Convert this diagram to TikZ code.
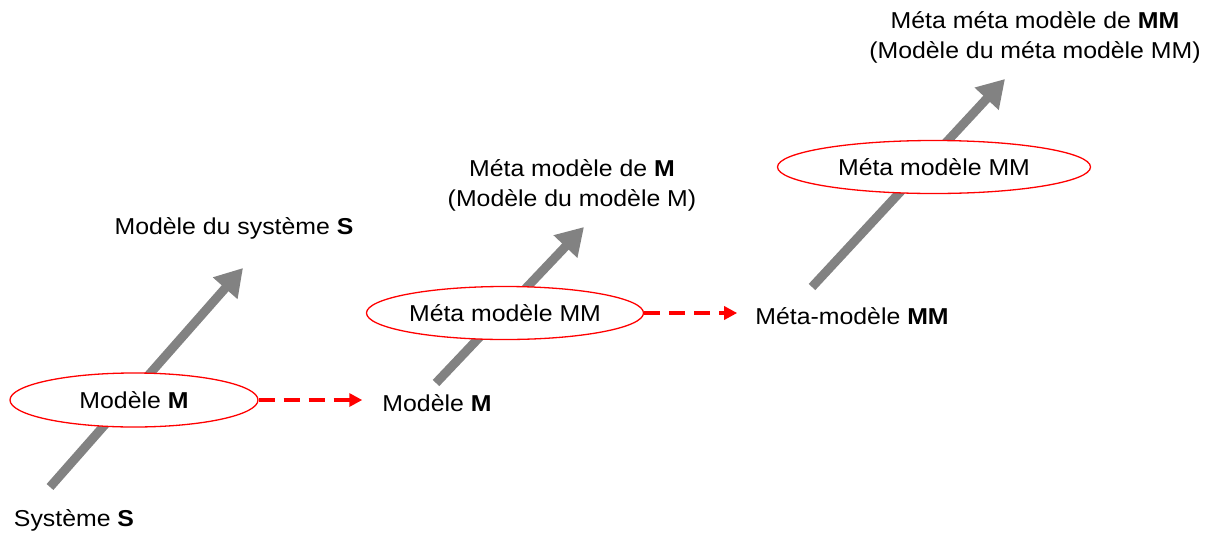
\documentclass[tikz,border=0pt]{standalone}
\usepackage{fontspec}
\setmainfont{Liberation Sans}[FakeStretch=1.08]
\usetikzlibrary{arrows.meta,shapes.geometric}
\tikzset{
  lbl/.style={inner sep=0pt, font=\fontsize{23}{30}\selectfont, align=center},
  oval/.style={ellipse, draw=red, line width=1.3pt, fill=white, inner sep=0pt, font=\fontsize{23}{30}\selectfont},
  bigarrow/.style={draw=gray!98, line width=9pt, -{Triangle[width=31pt,length=27pt]}},
  dasharrow/.style={draw=red, line width=3.6pt, dash pattern=on 16pt off 9pt, -{Triangle[width=13pt,length=13pt]}},
}
\begin{document}
\begin{tikzpicture}[x=1pt,y=-1pt]
\useasboundingbox (0,0) rectangle (1210,536);
% arrow endpoints
\coordinate (a1s) at (50,487);
\coordinate (a1e) at (243,268);
\coordinate (a2s) at (436,383);
\coordinate (a2e) at (584,227);
\coordinate (a3s) at (812,287);
\coordinate (a3e) at (1005,79);
\draw[bigarrow] (a1s) -- (a1e);
\draw[bigarrow] (a2s) -- (a2e);
\draw[bigarrow] (a3s) -- (a3e);
% ellipses
\node[oval, minimum width=248pt, minimum height=54pt] (e1) at (134,400) {Modèle \textbf{M}};
\node[oval, minimum width=277pt, minimum height=53pt] (e2) at (505,313) {Méta modèle MM};
\node[oval, minimum width=313pt, minimum height=53pt] (e3) at (934,167) {Méta modèle MM};
% labels
\node[lbl] (sys) at (74,520) {Système \textbf{S}};
\node[lbl] (mds) at (234,228) {Modèle du système \textbf{S}};
\node[lbl] (m2) at (437,403) {Modèle \textbf{M}};
\node[lbl] (mmM) at (572,185) {Méta modèle de \textbf{M}\\(Modèle du modèle M)};
\node[lbl] (mm2) at (852,316) {Méta-modèle \textbf{MM}};
\node[lbl] (mmmM) at (1035,37) {Méta méta modèle de \textbf{MM}\\(Modèle du méta modèle MM)};
% dashed arrows
\draw[dasharrow, shorten >=20pt] (e1.east) -- (e1.east -| m2.west);
\draw[dasharrow, shorten >=18pt] (e2.east) -- (e2.east -| mm2.west);
\end{tikzpicture}
\end{document}
